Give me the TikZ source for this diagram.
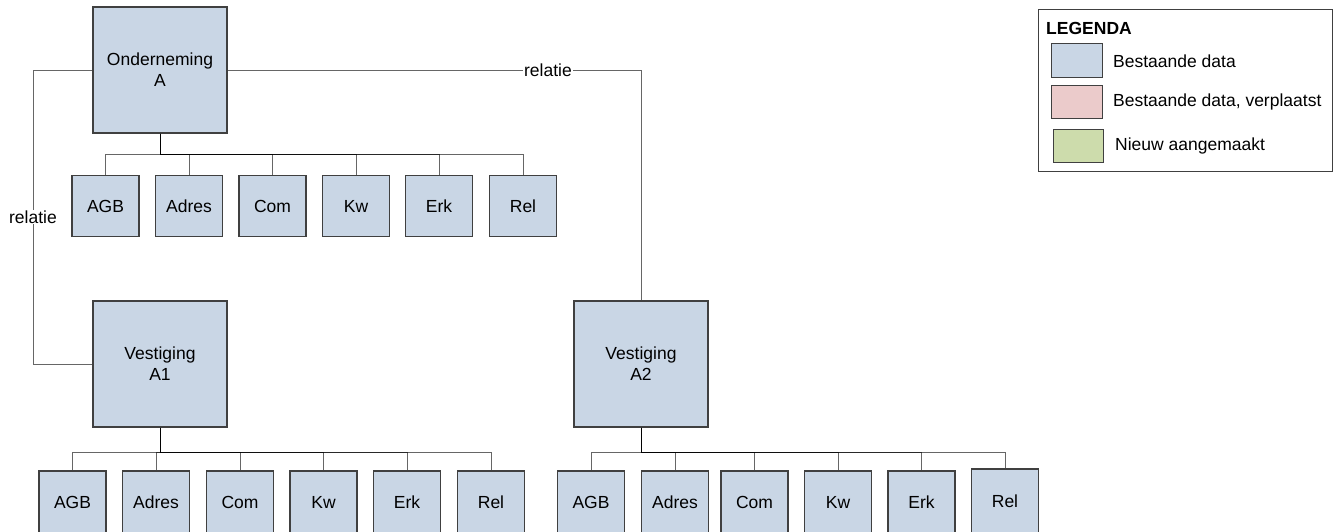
\documentclass[tikz,border=0pt]{standalone}
\usepackage{fontspec}
\setmainfont{Liberation Sans}
\definecolor{boxblue}{RGB}{201,214,229}
\definecolor{boxpink}{RGB}{235,203,203}
\definecolor{boxgreen}{RGB}{205,220,172}
\definecolor{edge}{RGB}{64,64,64}
\begin{document}
\begin{tikzpicture}[x=1pt,y=-1pt,
  every node/.style={font=\fontsize{17.5}{21}\selectfont},
  bigbox/.style={rectangle,draw=edge,line width=1.2pt,fill=boxblue,
    minimum width=134pt,minimum height=126pt,align=center,inner sep=0pt},
  smallbox/.style={rectangle,draw=edge,line width=1.2pt,fill=boxblue,
    minimum width=67pt,minimum height=61pt,inner sep=0pt},
  lowbox/.style={smallbox,minimum height=62pt},
  conn/.style={draw=black,opacity=0.6,line width=1pt},
  lbl/.style={fill=white,inner sep=1pt,opacity=1},
  swatch/.style={rectangle,draw=edge,line width=1pt,inner sep=0pt}
]
\useasboundingbox (0,0) rectangle (1341,531);
\clip (0,0) rectangle (1341,531);

% main boxes
\node[bigbox] (O)  at (160,70)  {Onderneming\\A};
\node[bigbox] (A1) at (160,364) {Vestiging\\A1};
\node[bigbox] (A2) at (641,364) {Vestiging\\A2};

% children of Onderneming A
\node[smallbox] (oAGB) at (105.5,206) {AGB};
\node[smallbox] (oAdr) at (189,206)   {Adres};
\node[smallbox] (oCom) at (272.5,206) {Com};
\node[smallbox] (oKw)  at (356,206)   {Kw};
\node[smallbox] (oErk) at (439,206)   {Erk};
\node[smallbox] (oRel) at (523,206)   {Rel};

% children of Vestiging A1
\node[lowbox] (aAGB) at (72.5,502) {AGB};
\node[lowbox] (aAdr) at (156,502)  {Adres};
\node[lowbox] (aCom) at (240,502)  {Com};
\node[lowbox] (aKw)  at (323.5,502){Kw};
\node[lowbox] (aErk) at (407,502)  {Erk};
\node[lowbox] (aRel) at (491,502)  {Rel};

% children of Vestiging A2
\node[lowbox] (bAGB) at (591,502)   {AGB};
\node[lowbox] (bAdr) at (675,502)   {Adres};
\node[lowbox] (bCom) at (754.5,502) {Com};
\node[lowbox] (bKw)  at (838,502)   {Kw};
\node[lowbox] (bErk) at (921.5,502) {Erk};
\node[lowbox,minimum height=64pt] (bRel) at (1005,501) {Rel};

% relations
\coordinate (L) at (33,70);
\draw[conn] (O.west) -- (L) -- node[lbl]{relatie} (L |- A1.west) -- (A1.west);
\draw[conn] (O.east) -- node[lbl,pos=0.775]{relatie} (O.east -| A2.north) -- (A2.north);

% tree connectors
\foreach \c in {oAGB,oAdr,oCom,oKw,oErk,oRel}
  \draw[conn] (O.south) -- ++(0,20.7) -| (\c.north);
\foreach \c in {aAGB,aAdr,aCom,aKw,aErk,aRel}
  \draw[conn] (A1.south) -- ++(0,25) -| (\c.north);
\foreach \c in {bAGB,bAdr,bCom,bKw,bErk,bRel}
  \draw[conn] (A2.south) -- ++(0,25) -| (\c.north);

% legend
\node[rectangle,draw=edge,line width=1pt,minimum width=294pt,minimum height=162.5pt,inner sep=0pt] (leg) at (1185,90.5) {};
\node[anchor=west,inner sep=0pt,font=\fontsize{17.5}{21}\selectfont\bfseries] (legt) at (1046,28) {LEGENDA};
\node[swatch,fill=boxblue,minimum width=51pt,minimum height=34pt] (s1) at (1076.5,60) {};
\node[swatch,fill=boxpink,minimum width=51pt,minimum height=33pt] (s2) at (1076.5,102) {};
\node[swatch,fill=boxgreen,minimum width=50pt,minimum height=33pt] (s3) at (1078,145.5) {};
\node[anchor=west,inner sep=0pt] (t1) at (1113,61.5) {Bestaande data};
\node[anchor=west,inner sep=0pt] (t2) at (1113,101.5) {Bestaande data, verplaatst};
\node[anchor=west,inner sep=0pt] (t3) at (1115,145.5) {Nieuw aangemaakt};
\end{tikzpicture}
\end{document}
